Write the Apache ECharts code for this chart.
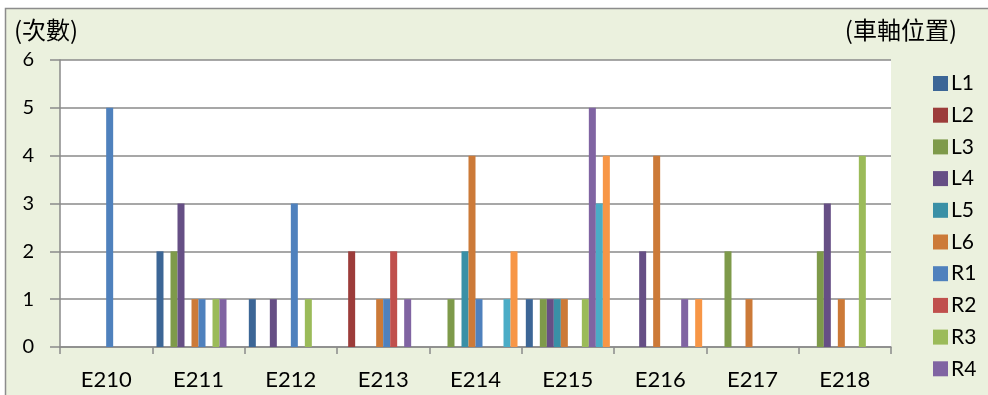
<!DOCTYPE html>
<html><head><meta charset="utf-8">
<script src="https://cdn.jsdelivr.net/npm/echarts@6/dist/echarts.min.js"></script>
<style>html,body{margin:0;padding:0;background:#fff;}#c{width:988px;height:395px;}</style>
</head><body><div id="c"></div>
<script>
const categories = ['E210','E211','E212','E213','E214','E215','E216','E217','E218'];
const seriesNames = ['L1','L2','L3','L4','L5','L6','R1','R2','R3','R4','R5','R6'];
const legendNames = ['L1','L2','L3','L4','L5','L6','R1','R2','R3','R4'];
const L1 = [0,2,1,0,0,1,0,0,0];
const L2 = [0,0,0,2,0,0,0,0,0];
const L3 = [0,2,0,0,1,1,0,2,2];
const L4 = [0,3,1,0,0,1,2,0,3];
const L5 = [0,0,0,0,2,1,0,0,0];
const L6 = [0,1,0,1,4,1,4,1,1];
const R1 = [5,1,3,1,1,0,0,0,0];
const R2 = [0,0,0,2,0,0,0,0,0];
const R3 = [0,1,1,0,0,1,0,0,4];
const R4 = [0,1,0,1,0,5,1,0,0];
const R5 = [0,0,0,0,1,3,0,0,0];
const R6 = [0,0,0,0,2,4,1,0,0];
const yTicks = [0,1,2,3,4,5,6];
const values = [L1,L2,L3,L4,L5,L6,R1,R2,R3,R4,R5,R6];
const colors = ['#3C6696','#9C3C3A','#7E9A4A','#664F85','#3A90A6','#CC7A38',
                '#4F81BD','#C0504D','#9BBB59','#8064A2','#4BACC6','#F79646'];

const chart = echarts.init(document.getElementById('c'), null, {renderer:'canvas'});
const FONT = 'Lato';
chart.setOption({
  animation:false,
  backgroundColor:'#ffffff',
  color: colors,
  graphic:[
    {type:'rect', z:-10, silent:true, shape:{x:5.5,y:8.5,width:1000,height:400},
     style:{fill:'#EBF1DE', stroke:'#8c8c8c', lineWidth:1.5}},
    {type:'text', left:14, top:18, style:{text:'(次數)', font:'24px "Noto Sans CJK TC"', fill:'#000'}},
    {type:'text', right:31, top:18, style:{text:'(車軸位置)', font:'24px "Noto Sans CJK TC"', fill:'#000'}}
  ],
  legend:{
    data: legendNames,
    orient:'vertical', left:928, top:68,
    itemWidth:15, itemHeight:15, itemGap:10.7,
    icon:'rect',
    textStyle:{fontFamily:FONT, fontSize:21, color:'#000', lineHeight:20, padding:[0,0,0,-2]}
  },
  grid:{left:60, right:97, top:60, bottom:48, show:true, backgroundColor:'#ffffff', borderWidth:0},
  xAxis:{
    type:'category', data:categories,
    axisLine:{lineStyle:{color:'#8a8a8a', width:1.5}},
    axisTick:{show:true, length:7, lineStyle:{color:'#8a8a8a', width:1.5}},
    axisLabel:{fontFamily:FONT, fontSize:22, color:'#000', margin:22}
  },
  yAxis:{
    type:'value', min:0, max:6, interval:1,
    axisLine:{show:true, lineStyle:{color:'#8a8a8a', width:1.5}},
    axisTick:{show:true, length:10, lineStyle:{color:'#8a8a8a', width:1.5}},
    axisLabel:{fontFamily:FONT, fontSize:20, color:'#000', margin:26,
      formatter: v => yTicks.includes(v) ? String(v) : ''},
    splitLine:{lineStyle:{color:'#8a8a8a', width:1.5}}
  },
  series: seriesNames.map((n,i)=>({
    name:n, type:'bar', data:values[i],
    barGap:'0%', barCategoryGap:'9%',
    itemStyle:{color:colors[i]}
  }))
});
</script></body></html>
